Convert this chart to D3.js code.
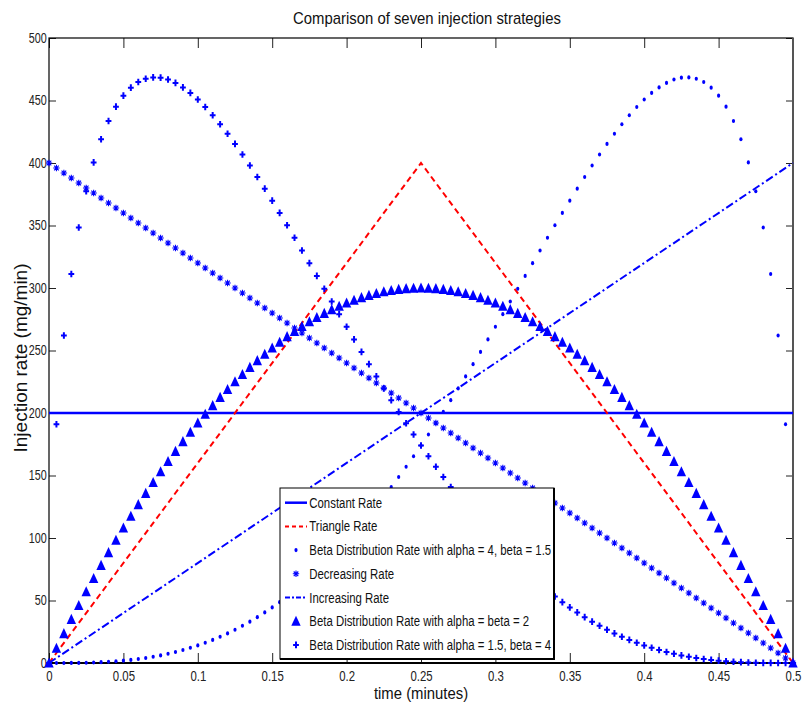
<!DOCTYPE html>
<html>
<head>
<meta charset="utf-8">
<script src="https://cdn.jsdelivr.net/npm/d3@7.9.0/dist/d3.min.js"></script>
<style>
  body { margin: 0; background: #fff; }
  svg { display: block; font-family: "Liberation Sans", Arial, sans-serif; }
</style>
</head>
<body>
<svg id="chart" width="802" height="708"></svg>
<script>
// sample times (minutes)
const timeMin = [
  0, 0.005, 0.01, 0.015, 0.02, 0.025, 0.03, 0.035, 0.04, 0.045,
  0.05, 0.055, 0.06, 0.065, 0.07, 0.075, 0.08, 0.085, 0.09, 0.095,
  0.1, 0.105, 0.11, 0.115, 0.12, 0.125, 0.13, 0.135, 0.14, 0.145,
  0.15, 0.155, 0.16, 0.165, 0.17, 0.175, 0.18, 0.185, 0.19, 0.195,
  0.2, 0.205, 0.21, 0.215, 0.22, 0.225, 0.23, 0.235, 0.24, 0.245,
  0.25, 0.255, 0.26, 0.265, 0.27, 0.275, 0.28, 0.285, 0.29, 0.295,
  0.3, 0.305, 0.31, 0.315, 0.32, 0.325, 0.33, 0.335, 0.34, 0.345,
  0.35, 0.355, 0.36, 0.365, 0.37, 0.375, 0.38, 0.385, 0.39, 0.395,
  0.4, 0.405, 0.41, 0.415, 0.42, 0.425, 0.43, 0.435, 0.44, 0.445,
  0.45, 0.455, 0.46, 0.465, 0.47, 0.475, 0.48, 0.485, 0.49, 0.495,
  0.5
];

// line-only series (endpoints)
const constantTime = [0, 0.5];
const constantRate = [200, 200];
const triangleTime = [0, 0.25, 0.5];
const triangleRate = [0, 400, 0];
const increasingTime = [0, 0.5];
const increasingRate = [0, 400];

// Beta distribution rate, alpha = 4, beta = 1.5
const beta4_15Rate = [
  0, 0.0, 0.0, 0.1, 0.1, 0.2, 0.4, 0.7, 1.0, 1.4,
  1.9, 2.5, 3.2, 4.0, 5.0, 6.1, 7.4, 8.8, 10.4, 12.2,
  14.1, 16.2, 18.5, 21.0, 23.7, 26.6, 29.8, 33.1, 36.7, 40.5,
  44.5, 48.7, 53.2, 57.9, 62.9, 68.1, 73.5, 79.2, 85.1, 91.2,
  97.6, 104.2, 111.1, 118.2, 125.5, 133.0, 140.8, 148.8, 157.0, 165.4,
  174.0, 182.8, 191.8, 200.9, 210.3, 219.7, 229.3, 239.1, 248.9, 258.9,
  269.0, 279.1, 289.2, 299.4, 309.7, 319.9, 330.0, 340.2, 350.2, 360.1,
  369.9, 379.5, 388.8, 398.0, 406.8, 415.3, 423.4, 431.0, 438.2, 444.8,
  450.8, 456.1, 460.5, 464.1, 466.8, 468.3, 468.5, 467.4, 464.8, 460.3,
  453.9, 445.1, 433.6, 419.0, 400.5, 377.4, 348.4, 311.2, 262.0, 191.0,
  0
];

// Decreasing rate
const decreasingRate = [
  400, 396, 392, 388, 384, 380, 376, 372, 368, 364,
  360, 356, 352, 348, 344, 340, 336, 332, 328, 324,
  320, 316, 312, 308, 304, 300, 296, 292, 288, 284,
  280, 276, 272, 268, 264, 260, 256, 252, 248, 244,
  240, 236, 232, 228, 224, 220, 216, 212, 208, 204,
  200, 196, 192, 188, 184, 180, 176, 172, 168, 164,
  160, 156, 152, 148, 144, 140, 136, 132, 128, 124,
  120, 116, 112, 108, 104, 100, 96, 92, 88, 84,
  80, 76, 72, 68, 64, 60, 56, 52, 48, 44,
  40, 36, 32, 28, 24, 20, 16, 12, 8, 4,
  0
];

// Beta distribution rate, alpha = beta = 2
const beta2_2Rate = [
  0, 11.88, 23.52, 34.92, 46.08, 57, 67.68, 78.12, 88.32, 98.28,
  108, 117.48, 126.72, 135.72, 144.48, 153, 161.28, 169.32, 177.12, 184.68,
  192, 199.08, 205.92, 212.52, 218.88, 225, 230.88, 236.52, 241.92, 247.08,
  252, 256.68, 261.12, 265.32, 269.28, 273, 276.48, 279.72, 282.72, 285.48,
  288, 290.28, 292.32, 294.12, 295.68, 297, 298.08, 298.92, 299.52, 299.88,
  300, 299.88, 299.52, 298.92, 298.08, 297, 295.68, 294.12, 292.32, 290.28,
  288, 285.48, 282.72, 279.72, 276.48, 273, 269.28, 265.32, 261.12, 256.68,
  252, 247.08, 241.92, 236.52, 230.88, 225, 218.88, 212.52, 205.92, 199.08,
  192, 184.68, 177.12, 169.32, 161.28, 153, 144.48, 135.72, 126.72, 117.48,
  108, 98.28, 88.32, 78.12, 67.68, 57, 46.08, 34.92, 23.52, 11.88,
  0
];

// Beta distribution rate, alpha = 1.5, beta = 4
const beta15_4Rate = [
  0, 191.0, 262.0, 311.2, 348.4, 377.4, 400.5, 419.0, 433.6, 445.1,
  453.9, 460.3, 464.8, 467.4, 468.5, 468.3, 466.8, 464.1, 460.5, 456.1,
  450.8, 444.8, 438.2, 431.0, 423.4, 415.3, 406.8, 398.0, 388.8, 379.5,
  369.9, 360.1, 350.2, 340.2, 330.0, 319.9, 309.7, 299.4, 289.2, 279.1,
  269.0, 258.9, 248.9, 239.1, 229.3, 219.7, 210.3, 200.9, 191.8, 182.8,
  174.0, 165.4, 157.0, 148.8, 140.8, 133.0, 125.5, 118.2, 111.1, 104.2,
  97.6, 91.2, 85.1, 79.2, 73.5, 68.1, 62.9, 57.9, 53.2, 48.7,
  44.5, 40.5, 36.7, 33.1, 29.8, 26.6, 23.7, 21.0, 18.5, 16.2,
  14.1, 12.2, 10.4, 8.8, 7.4, 6.1, 5.0, 4.0, 3.2, 2.5,
  1.9, 1.4, 1.0, 0.7, 0.4, 0.2, 0.1, 0.1, 0.0, 0.0,
  0
];

const xTicks = [0, 0.05, 0.1, 0.15, 0.2, 0.25, 0.3, 0.35, 0.4, 0.45, 0.5];
const yTicks = [0, 50, 100, 150, 200, 250, 300, 350, 400, 450, 500];

const legendLabels = [
  'Constant Rate',
  'Triangle Rate',
  'Beta Distribution Rate with alpha = 4, beta = 1.5',
  'Decreasing Rate',
  'Increasing Rate',
  'Beta Distribution Rate with alpha = beta = 2',
  'Beta Distribution Rate with alpha = 1.5, beta = 4'
];

const BLUE = '#0000ff';
const RED = '#ff0000';

const svg = d3.select('#chart');
const plotL = 49, plotR = 793, plotT = 38, plotB = 663;

const x = d3.scaleLinear().domain([0, 0.5]).range([plotL, plotR]);
const y = d3.scaleLinear().domain([0, 500]).range([plotB, plotT]);

// axes with inward ticks
const xAxis = svg.append('g').attr('transform', `translate(0,${plotB})`)
  .call(d3.axisBottom(x).tickValues(xTicks).tickFormat(d => String(d))
    .tickSizeInner(-10).tickSizeOuter(0).tickPadding(7.5));
const xAxisTop = svg.append('g').attr('transform', `translate(0,${plotT})`)
  .call(d3.axisTop(x).tickValues(xTicks).tickFormat('').tickSizeInner(-10).tickSizeOuter(0));
const yAxis = svg.append('g').attr('transform', `translate(${plotL},0)`)
  .call(d3.axisLeft(y).tickValues(yTicks).tickFormat(d => String(d))
    .tickSizeInner(-7).tickSizeOuter(0).tickPadding(3));
const yAxisRight = svg.append('g').attr('transform', `translate(${plotR},0)`)
  .call(d3.axisRight(y).tickValues(yTicks).tickFormat('').tickSizeInner(-7).tickSizeOuter(0));

[xAxis, xAxisTop, yAxis, yAxisRight].forEach(g => {
  g.select('.domain').remove();
  g.selectAll('line').attr('stroke', '#222').attr('stroke-width', 1);
});
xAxis.selectAll('text').attr('font-size', 15).attr('fill', '#222')
  .attr('transform', 'scale(0.76,1)');
yAxis.selectAll('text').attr('font-size', 14).attr('fill', '#222')
  .attr('transform', 'scale(0.77,1)');

// box
svg.append('rect').attr('x', plotL).attr('y', plotT)
  .attr('width', plotR - plotL).attr('height', plotB - plotT)
  .attr('fill', 'none').attr('stroke', '#000').attr('stroke-width', 1.2);
svg.append('line').attr('x1', plotL).attr('x2', plotR).attr('y1', plotB).attr('y2', plotB)
  .attr('stroke', '#000').attr('stroke-width', 2);
svg.append('line').attr('x1', plotR).attr('x2', plotR).attr('y1', plotT).attr('y2', plotB)
  .attr('stroke', '#555').attr('stroke-width', 2);

const line = d3.line().x(d => x(d[0])).y(d => y(d[1]));
const zip = (ts, vs) => ts.map((t, i) => [t, vs[i]]);
const plot = svg.append('g');

// marker shapes
const markers = {
  dot: (g) => g.append('ellipse').attr('rx', 1.6).attr('ry', 2.1).attr('fill', BLUE),
  star: (g) => g.append('path').attr('d', 'M-3.2,0H3.2M0,-3.2V3.2M-2.3,-2.3L2.3,2.3M-2.3,2.3L2.3,-2.3')
    .attr('stroke', BLUE).attr('stroke-width', 1.1).attr('fill', 'none'),
  tri: (g) => g.append('path').attr('d', 'M0,-5.5L4.7,4.6L-4.7,4.6Z').attr('fill', BLUE),
  plus: (g) => g.append('path').attr('d', 'M-2.9,0H2.9M0,-3.3V3.3')
    .attr('stroke', BLUE).attr('stroke-width', 2).attr('fill', 'none')
};

function drawMarkers(vals, kind) {
  plot.append('g').selectAll('g').data(zip(timeMin, vals)).join('g')
    .attr('transform', d => `translate(${x(d[0])},${y(d[1])})`)
    .each(function () { markers[kind](d3.select(this)); });
}

// series in plot order
plot.append('path').attr('d', line(zip(constantTime, constantRate)))
  .attr('fill', 'none').attr('stroke', BLUE).attr('stroke-width', 2.5);
plot.append('path').attr('d', line(zip(triangleTime, triangleRate)))
  .attr('fill', 'none').attr('stroke', RED).attr('stroke-width', 2)
  .attr('stroke-dasharray', '6,4');
drawMarkers(beta4_15Rate, 'dot');
drawMarkers(decreasingRate, 'star');
plot.append('path').attr('d', line(zip(increasingTime, increasingRate)))
  .attr('fill', 'none').attr('stroke', BLUE).attr('stroke-width', 2)
  .attr('stroke-dasharray', '8,3,2,3');
drawMarkers(beta2_2Rate, 'tri');
drawMarkers(beta15_4Rate, 'plus');

// legend
const lg = svg.append('g');
const lgL = 280, lgT = 488, lgR = 554, lgB = 659;
lg.append('rect').attr('x', lgL).attr('y', lgT).attr('width', lgR - lgL).attr('height', lgB - lgT)
  .attr('fill', '#fff').attr('stroke', '#000').attr('stroke-width', 1);
lg.append('path').attr('d', `M${lgL},${lgB}H${lgR}V${lgT}`)
  .attr('fill', 'none').attr('stroke', '#000').attr('stroke-width', 2);

const kinds = ['solid', 'dash', 'dot', 'star', 'dashdot', 'tri', 'plus'];
legendLabels.forEach((label, i) => {
  const base = 507.7 + i * 23.7;
  const cy = base - 5;
  const row = lg.append('g');
  const k = kinds[i];
  if (k === 'solid') {
    row.append('line').attr('x1', 285).attr('x2', 307).attr('y1', cy).attr('y2', cy)
      .attr('stroke', BLUE).attr('stroke-width', 2.5);
  } else if (k === 'dash') {
    row.append('line').attr('x1', 285).attr('x2', 307).attr('y1', cy).attr('y2', cy)
      .attr('stroke', RED).attr('stroke-width', 2).attr('stroke-dasharray', '4,3');
  } else if (k === 'dashdot') {
    row.append('line').attr('x1', 285).attr('x2', 307).attr('y1', cy).attr('y2', cy)
      .attr('stroke', BLUE).attr('stroke-width', 2).attr('stroke-dasharray', '5,2,2,2');
  } else {
    const m = row.append('g').attr('transform', `translate(296,${cy})`);
    markers[k](m);
  }
  row.append('g').attr('transform', `translate(309.3,${base}) scale(0.76,1)`)
    .append('text').attr('font-size', 15).attr('fill', '#111').text(label);
});

// title and axis labels
svg.append('g').attr('transform', 'translate(427,24) scale(0.93,1)')
  .append('text').attr('text-anchor', 'middle').attr('font-size', 16).attr('fill', '#111')
  .text('Comparison of seven injection strategies');
svg.append('g').attr('transform', 'translate(421,699) scale(0.93,1)')
  .append('text').attr('text-anchor', 'middle').attr('font-size', 16).attr('fill', '#111')
  .text('time (minutes)');
svg.append('g').attr('transform', 'translate(27,358) rotate(-90)')
  .append('text').attr('text-anchor', 'middle').attr('font-size', 19).attr('fill', '#111')
  .text('Injection rate (mg/min)');
</script>
</body>
</html>
